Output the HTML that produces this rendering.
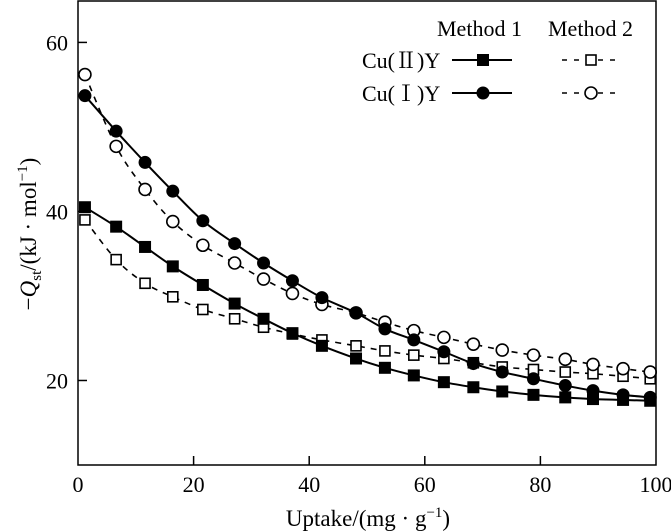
<!DOCTYPE html>
<html><head><meta charset="utf-8">
<style>
html,body{margin:0;padding:0;background:#fff;}
svg{display:block;font-family:"Liberation Serif","Noto Serif CJK SC",serif;}
</style></head>
<body>
<svg id="chart" width="671" height="532" viewBox="0 0 671 532" xmlns="http://www.w3.org/2000/svg">
<g id="marks"></g>
<g id="axes"></g>
<g id="legend">
  <text x="437" y="36" font-size="22">Method 1</text>
  <text x="548" y="36" font-size="22">Method 2</text>
  <text x="362" y="68" font-size="22">Cu(Ⅱ)Y</text>
  <text x="362" y="101" font-size="22">Cu(Ⅰ)Y</text>
  <g>
    <line x1="452" y1="60" x2="512" y2="60" stroke="#000" stroke-width="2"/>
    <rect x="477" y="54" width="12" height="12" fill="#000"/>
  </g>
  <g>
    <line x1="562" y1="60" x2="622" y2="60" stroke="#000" stroke-width="1.6" stroke-dasharray="5,7"/>
    <rect x="586" y="55" width="10" height="10" fill="#fff" stroke="#000" stroke-width="1.6"/>
  </g>
  <g>
    <line x1="452" y1="93" x2="512" y2="93" stroke="#000" stroke-width="2"/>
    <circle cx="483" cy="93" r="6.5" fill="#000"/>
  </g>
  <g>
    <line x1="562" y1="93" x2="622" y2="93" stroke="#000" stroke-width="1.6" stroke-dasharray="5,7"/>
    <circle cx="591" cy="93" r="6" fill="#fff" stroke="#000" stroke-width="1.6"/>
  </g>
</g>
</svg>
<script>
const uptake = [1.2,6.6,11.6,16.4,21.6,27.1,32.1,37.1,42.2,48.1,53.1,58.1,63.3,68.4,73.4,78.8,84.3,89.1,94.3,99.0];
const cu2yMethod1 = [40.5,38.2,35.8,33.5,31.3,29.1,27.3,25.6,24.1,22.6,21.5,20.6,19.8,19.2,18.7,18.3,18.0,17.8,17.7,17.6];
const cu2yMethod2 = [39.0,34.3,31.5,29.9,28.4,27.3,26.3,25.5,24.8,24.1,23.5,23.0,22.6,22.1,21.6,21.3,21.0,20.8,20.5,20.2];
const cu1yMethod1 = [53.7,49.5,45.8,42.4,38.9,36.2,33.9,31.8,29.8,28.0,26.1,24.8,23.4,22.0,21.0,20.2,19.4,18.8,18.3,18.0];
const cu1yMethod2 = [56.2,47.7,42.6,38.8,36.0,33.9,32.0,30.3,29.0,28.0,26.9,25.9,25.1,24.3,23.6,23.0,22.5,21.9,21.4,21.0];
const xTicks = [0,20,40,60,80,100];
const yTicks = [20,40,60];

const NS='http://www.w3.org/2000/svg';
const L=78,R=656,T=1,B=465;
const X0=0,X1=100,Y0=10,Y1=64.9;
function sx(v){return L+(v-X0)/(X1-X0)*(R-L);}
function sy(v){return B-(v-Y0)/(Y1-Y0)*(B-T);}
function mk(tag,attrs,parent){const e=document.createElementNS(NS,tag);for(const k in attrs)e.setAttribute(k,attrs[k]);parent.appendChild(e);return e;}
const axes=document.getElementById('axes'), marks=document.getElementById('marks');

const frame=mk('rect',{x:L,y:T,width:R-L,height:B-T,fill:'none',stroke:'#000','stroke-width':1.5},axes);


xTicks.forEach(t=>{
  if(t>0&&t<100){const tk=mk('line',{x1:sx(t),x2:sx(t),y1:B,y2:B-9,stroke:'#000','stroke-width':1.5},axes);
  
  }
  const lb=mk('text',{x:sx(t),y:492,'font-size':22,'text-anchor':'middle'},axes);
  lb.textContent=t;
  
  
});
yTicks.forEach(t=>{
  const tk=mk('line',{x1:L,x2:L+9,y1:sy(t),y2:sy(t),stroke:'#000','stroke-width':1.5},axes);
  
  
  const lb=mk('text',{x:68,y:sy(t)+8,'font-size':22,'text-anchor':'end'},axes);
  lb.textContent=t;
  
  
});
const xt=mk('text',{x:368,y:526,'font-size':23,'text-anchor':'middle'},axes);
xt.innerHTML='Uptake/(mg · g<tspan font-size="15" dy="-9">−1</tspan><tspan dy="9">)</tspan>';


const yt=mk('text',{x:0,y:0,'font-size':23,'text-anchor':'middle',transform:'translate(36,234) rotate(-90)'},axes);
yt.innerHTML='−<tspan font-style="italic">Q</tspan><tspan font-size="15" dy="5">st</tspan><tspan dy="-5">/(kJ · mol</tspan><tspan font-size="15" dy="-9">−1</tspan><tspan dy="9">)</tspan>';



function smooth(pts){
  let d='M'+pts[0][0]+','+pts[0][1];
  for(let i=0;i<pts.length-1;i++){
    const p0=pts[i-1]||pts[i],p1=pts[i],p2=pts[i+1],p3=pts[i+2]||p2;
    const c1=[p1[0]+(p2[0]-p0[0])/6,p1[1]+(p2[1]-p0[1])/6];
    const c2=[p2[0]-(p3[0]-p1[0])/6,p2[1]-(p3[1]-p1[1])/6];
    d+=' C'+c1+' '+c2+' '+p2;
  }
  return d;
}
function series(vals,name,dashed,shape,filled){
  const g=mk('g',{},marks);
  
  
  const pts=uptake.map((u,i)=>[sx(u),sy(vals[i])]);
  const p=mk('path',{d:smooth(pts),fill:'none',stroke:'#000','stroke-width':dashed?1.6:2,'stroke-dasharray':dashed?'6,6':'none'},g);
  
  
  pts.forEach(q=>{
    let m;
    if(shape==='sq') m=filled?mk('rect',{x:q[0]-6,y:q[1]-6,width:12,height:12,fill:'#000'},g)
                            :mk('rect',{x:q[0]-5,y:q[1]-5,width:10,height:10,fill:'#fff',stroke:'#000','stroke-width':1.6},g);
    else m=filled?mk('circle',{cx:q[0],cy:q[1],r:6.5,fill:'#000'},g)
                 :mk('circle',{cx:q[0],cy:q[1],r:6,fill:'#fff',stroke:'#000','stroke-width':1.6},g);
    
    
  });
}
series(cu2yMethod2,'cu2y-method2',true,'sq',false);
series(cu1yMethod2,'cu1y-method2',true,'ci',false);
series(cu2yMethod1,'cu2y-method1',false,'sq',true);
series(cu1yMethod1,'cu1y-method1',false,'ci',true);
</script>
</body></html>
